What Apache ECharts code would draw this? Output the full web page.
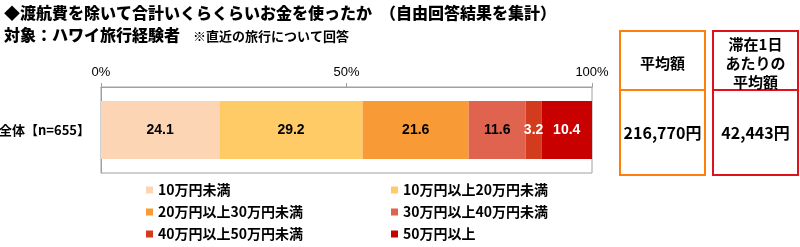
<!DOCTYPE html>
<html><head><meta charset="utf-8">
<script src="https://cdn.jsdelivr.net/npm/echarts@6/dist/echarts.min.js"></script>
<style>html,body{margin:0;padding:0;background:#fff}#c{width:800px;height:247px}</style>
</head><body><div id="c"></div>
<script>
const categories = ['全体【n=655】'];
const seriesNames = ['10万円未満','10万円以上20万円未満','20万円以上30万円未満','30万円以上40万円未満','40万円以上50万円未満','50万円以上'];
const seriesValues = [[24.1],[29.2],[21.6],[11.6],[3.2],[10.4]];
const seriesColors = ['#FCD5B5','#FFCB66','#F89A36','#DF634F','#D23B1E','#C80000'];
const labelColors = ['#000','#000','#000','#000','#fff','#fff'];
const xTicks = [0,50,100];
const titleLine1 = '◆渡航費を除いて合計いくらくらいお金を使ったか　（自由回答結果を集計）';
const titleLine2a = '対象：ハワイ旅行経験者';
const titleLine2b = '※直近の旅行について回答';
const avgHeader = '平均額';
const avgValue = '216,770円';
const dailyHeader = '滞在1日\nあたりの\n平均額';
const dailyValue = '42,443円';

const FONT = '"Noto Sans CJK JP", sans-serif';
const NUMFONT = '"Liberation Sans", Arial, sans-serif';
const chart = echarts.init(document.getElementById('c'), null, {renderer:'canvas'});
const series = seriesNames.map((n,i)=>({
  name:n, type:'bar', stack:'s', barWidth:58,
  data:seriesValues[i],
  itemStyle:{color:seriesColors[i]},
  label:{show:true, position:'inside', color:labelColors[i], fontSize:14, fontWeight:'bold', fontFamily:NUMFONT, formatter:p=>p.value.toFixed(1)}
}));
const legendCommon = {orient:'vertical', top:183, padding:0, itemWidth:7, itemHeight:7, itemGap:8, icon:'rect',
  textStyle:{fontSize:14, fontWeight:'bold', color:'#000', lineHeight:14, fontFamily:FONT}};
chart.setOption({
  animation:false,
  textStyle:{fontFamily:FONT},
  grid:{left:101, right:208, top:87, bottom:74, outerBoundsMode:'none', containLabel:false, show:true, borderColor:'#A0A0A0', borderWidth:1, backgroundColor:'transparent'},
  xAxis:{type:'value', position:'top', min:xTicks[0], max:xTicks[xTicks.length-1], interval:50,
    axisLine:{show:true, lineStyle:{color:'#A0A0A0'}},
    axisTick:{show:true, length:4, lineStyle:{color:'#A0A0A0'}},
    splitLine:{show:false},
    axisLabel:{formatter:'{value}%', color:'#000', fontSize:13, margin:8, fontFamily:NUMFONT}},
  yAxis:{type:'category', data:categories, inverse:true,
    axisLine:{show:true, lineStyle:{color:'#A0A0A0'}},
    axisTick:{show:false},
    axisLabel:{color:'#000', fontSize:13, fontWeight:'bold', margin:11, fontFamily:FONT}},
  legend:[
    Object.assign({left:146, data:[seriesNames[0],seriesNames[2],seriesNames[4]]}, legendCommon),
    Object.assign({left:391, data:[seriesNames[1],seriesNames[3],seriesNames[5]]}, legendCommon)
  ],
  series:series,
  graphic:[
    {type:'text', left:4, top:5, style:{text:titleLine1, font:'900 16px '+FONT, fill:'#000'}},
    {type:'text', left:4, top:27, style:{text:titleLine2a, font:'900 16px '+FONT, fill:'#000'}},
    {type:'text', left:193, top:30, style:{text:titleLine2b, font:'bold 13px '+FONT, fill:'#000'}},
    {type:'rect', shape:{x:620, y:31, width:85, height:144}, style:{fill:'none', stroke:'#FF7F0E', lineWidth:2}},
    {type:'line', shape:{x1:620, y1:90, x2:705, y2:90}, style:{stroke:'#FF7F0E', lineWidth:2}},
    {type:'rect', shape:{x:713, y:31, width:85, height:144}, style:{fill:'none', stroke:'#E0101E', lineWidth:2}},
    {type:'line', shape:{x1:713, y1:90, x2:798, y2:90}, style:{stroke:'#E0101E', lineWidth:2}},
    {type:'text', x:662.5, y:63, style:{text:avgHeader, font:'bold 15px '+FONT, fill:'#000', align:'center', verticalAlign:'middle'}},
    {type:'text', x:662.5, y:133, style:{text:avgValue, font:'bold 16px '+FONT, fill:'#000', align:'center', verticalAlign:'middle'}},
    {type:'text', x:755.5, y:63, style:{text:dailyHeader, font:'bold 15px '+FONT, fill:'#000', align:'center', verticalAlign:'middle', lineHeight:19}},
    {type:'text', x:755.5, y:133, style:{text:dailyValue, font:'bold 16px '+FONT, fill:'#000', align:'center', verticalAlign:'middle'}}
  ]
});
</script></body></html>
